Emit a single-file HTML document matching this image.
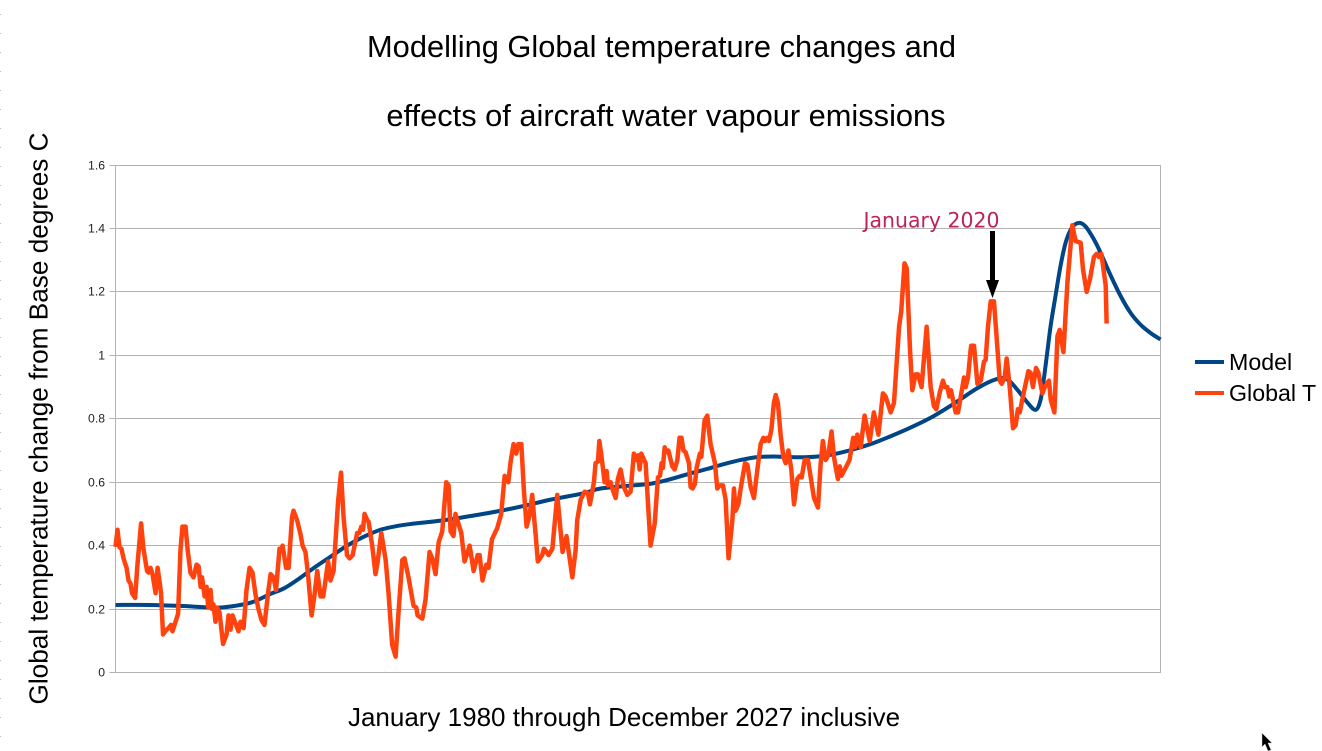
<!DOCTYPE html>
<html lang="en">
<head>
<meta charset="utf-8">
<title>Modelling Global temperature changes</title>
<style>
html,body{margin:0;padding:0;background:#fff;}
body{width:1322px;height:751px;overflow:hidden;}
svg{display:block;font-family:"Liberation Sans",Arial,sans-serif;}
</style>
</head>
<body>
<svg id="chart" width="1322" height="751" viewBox="0 0 1322 751" xmlns="http://www.w3.org/2000/svg">
  <rect x="0" y="0" width="1322" height="751" fill="#ffffff"/>
  <g id="edge-dots"></g>
  <text x="661.5" y="57" font-size="30.8" text-anchor="middle" fill="#000">Modelling Global temperature changes and</text>
  <text x="666" y="126" font-size="30.8" text-anchor="middle" fill="#000">effects of aircraft water vapour emissions</text>
  <g id="grid"></g>
  <g id="ticks"></g>
  <g id="series"></g>
  <text transform="translate(47.5,418.5) rotate(-90)" font-size="26.2" text-anchor="middle" fill="#000">Global temperature change from Base degrees C</text>
  <text x="624" y="726" font-size="26" text-anchor="middle" fill="#000">January 1980 through December 2027 inclusive</text>
  <text x="863.5" y="227.5" font-size="21" textLength="136" lengthAdjust="spacingAndGlyphs" fill="#bd2258" style="font-family:'DejaVu Sans',sans-serif">January 2020</text>
  <g>
    <line x1="992.5" y1="231" x2="992.5" y2="284" stroke="#000" stroke-width="5"/>
    <polygon points="986,280 999,280 992.5,298" fill="#000"/>
  </g>
  <g>
    <line x1="1195" y1="362" x2="1224" y2="362" stroke="#004586" stroke-width="4"/>
    <text x="1229" y="370" font-size="23.2" fill="#000">Model</text>
    <line x1="1195" y1="393" x2="1224" y2="393" stroke="#ff420e" stroke-width="4"/>
    <text x="1229" y="401" font-size="23.2" fill="#000">Global T</text>
  </g>
  <polygon points="1262,733 1262,747 1265,744 1268,751 1271,750 1268,743 1272,743" fill="#000" stroke="#ccc" stroke-width="0.5"/>
</svg>
<script>
var yTickValues = [0, 0.2, 0.4, 0.6, 0.8, 1, 1.2, 1.4, 1.6];
var yTickLabels = ["0", "0.2", "0.4", "0.6", "0.8", "1", "1.2", "1.4", "1.6"];
var totalMonths = 576;

var modelMonths = [0,19.3,35.8,52.4,60.6,74.4,85.5,92.8,100.2,109.4,118.5,127.7,136.9,146.1,155.3,162.6,180.9,199.6,212.3,225,239.9,258,267.4,285.6,294.9,304.3,317,326.2,335.4,344.6,353.8,362.9,372.1,381.3,390.5,399.7,408.9,419.9,436.6,449.3,462,475.2,486.2,491.8,497.3,502.8,507.2,509.9,511.8,513.6,515.5,518.2,521,523.7,526.5,529.2,532,534.7,537.5,540.3,543,548.5,554,559.6,565.1,570.6,576];
var modelValues = [.213,.213,.21,.205,.206,.22,.248,.265,.292,.33,.365,.40,.428,.45,.462,.468,.48,.497,.51,.525,.545,.565,.58,.59,.595,.607,.628,.642,.657,.67,.679,.681,.679,.679,.683,.693,.707,.728,.768,.803,.847,.897,.926,.923,.89,.85,.828,.86,.93,1.01,1.095,1.19,1.285,1.355,1.396,1.414,1.417,1.406,1.383,1.355,1.323,1.252,1.187,1.133,1.096,1.07,1.05];

var tempMonths = [0,1.1,2.2,3.3,4.4,6.1,7.2,8.3,9.1,10.8,12.1,14.1,15.4,17.4,18.2,19.3,20.4,22.1,23.2,24.3,25.1,26.2,28.1,29.2,30.6,31.4,33.1,34.5,35.8,36.9,38.6,39.7,41.3,43,44.7,45.8,46.9,47.7,49.1,50.2,51.1,52.4,53.2,54,55.1,56,57.3,59.3,61.2,62.3,63.4,64.5,67.8,68.9,70.6,72.2,73.9,75.5,77.2,78.8,80.5,82.1,84.3,85.5,87.1,88.5,90.4,91.5,92.1,94,95.4,97.3,98.1,100.1,102,103.1,104.7,106.1,108.1,109.7,111.2,113,114.5,117.2,118.5,120.2,122.7,124.3,125.7,127.6,129,130.7,133.2,134.4,135.5,136.4,137.3,138.8,139.5,141.5,143.3,144.4,146.5,148.9,150.5,152.5,154.4,156,158.1,159.3,161.5,164.3,165.8,166.5,169.1,170.9,173.1,174.6,176.4,178.1,180.1,182.3,183.6,184.7,186.3,187.4,190.6,192.4,195.2,197.4,199.6,200.7,202.3,204.4,205.6,207.5,210.4,212.6,214.5,216.5,217.8,219.4,220.9,222,223.7,225.1,226.6,228.2,229.7,231,231.5,232.8,235.2,236.1,237,238.7,240.8,243.5,246.4,248.6,251.8,253.6,254.5,256.4,258.6,260.4,261.5,263.7,264.6,265.9,266.7,267.8,269.6,270.7,271.4,272.9,273.8,275.7,276.9,278.4,280.2,282.1,283.9,285.7,287.1,288,288.9,289.8,292.2,294.9,297.2,299,300.1,301,301.7,302.7,303.6,304.7,306.9,308.2,309.7,310.9,312,313,314.2,316.1,317,318.1,319.4,320.3,322.1,322.9,324.7,326.2,328,330.4,331.7,333,334.8,336.3,337.9,340,340.9,341.8,343.3,344.6,347,348.3,350.1,351.9,353.8,355.6,357.1,358,359.3,360.2,361.5,362.9,363.9,365.1,366.6,368.1,369.4,370.9,372.5,374,375.8,377.1,378.2,379.9,381.7,383.2,385,387.2,388.7,389.9,391.4,392.9,394.7,396,396.9,398.2,399.2,400.1,402.4,404.6,406.6,407.7,408.9,410.7,412.9,415.7,418,420.5,423,424.5,427.3,429.1,431.9,433.1,434.9,436.1,437.9,439.2,441,442.3,444.3,447.1,449.3,451.1,452.4,454.4,456.1,457.2,458.5,459.6,460.5,463.1,464.4,466.2,467.7,468.6,469.9,471.4,471.7,473.2,475.1,476.9,478.7,479.6,480.9,482.4,484.2,485.5,487.4,488.5,490.1,491.2,492.9,494.7,496.2,497.4,498.4,500.7,503.2,504.4,505.7,507.4,508.7,510.9,512.2,514.5,515.5,517.5,519.2,520.4,522.5,524.7,527.4,529.2,532,533.3,535.3,537.1,539.3,540.8,542.1,543.4,545.8,546.3];
var tempValues = [.396,.45,.395,.39,.36,.33,.29,.28,.25,.235,.34,.47,.39,.32,.315,.33,.31,.25,.33,.285,.25,.12,.135,.14,.15,.13,.16,.185,.385,.46,.46,.39,.315,.30,.34,.335,.27,.30,.24,.27,.205,.26,.2,.215,.16,.205,.19,.09,.12,.18,.135,.18,.13,.16,.14,.26,.33,.315,.245,.2,.165,.15,.26,.31,.30,.26,.39,.39,.40,.33,.33,.49,.51,.48,.435,.40,.38,.31,.18,.245,.32,.24,.24,.35,.29,.32,.54,.63,.49,.37,.36,.37,.44,.44,.46,.45,.50,.48,.475,.40,.31,.345,.44,.355,.25,.087,.05,.19,.355,.36,.30,.21,.205,.18,.17,.23,.38,.36,.31,.41,.445,.60,.59,.445,.43,.50,.44,.35,.40,.32,.37,.37,.29,.34,.33,.42,.455,.50,.62,.60,.665,.72,.69,.72,.72,.575,.46,.495,.56,.47,.44,.35,.37,.39,.385,.37,.39,.56,.38,.43,.30,.385,.48,.545,.57,.565,.53,.60,.66,.665,.73,.685,.60,.635,.59,.60,.58,.55,.61,.64,.585,.56,.57,.69,.67,.685,.64,.69,.66,.40,.47,.615,.62,.66,.645,.71,.695,.70,.65,.64,.67,.74,.74,.70,.695,.66,.585,.58,.595,.645,.69,.68,.795,.81,.72,.66,.58,.59,.59,.545,.36,.48,.58,.51,.53,.58,.66,.655,.585,.55,.64,.72,.74,.73,.74,.73,.765,.85,.875,.85,.75,.68,.66,.70,.64,.53,.61,.62,.615,.67,.67,.615,.55,.52,.66,.73,.67,.685,.76,.68,.65,.61,.65,.62,.645,.67,.74,.71,.75,.71,.81,.73,.82,.75,.88,.87,.82,.85,1.09,1.14,1.29,1.275,1.02,.89,.94,.94,.90,1.09,.90,.84,.83,.885,.92,.90,.90,.87,.89,.82,.82,.88,.93,.90,.93,1.02,1.03,1.03,.91,.92,.98,.985,1.09,1.17,1.17,1.07,.92,.91,.93,.99,.90,.77,.78,.83,.82,.885,.95,.945,.90,.96,.945,.88,.90,.92,.86,.82,1.06,1.08,1.01,1.23,1.41,1.36,1.355,1.27,1.20,1.24,1.31,1.32,1.31,1.32,1.22,1.10];

var plotLeft = 115.5, plotRight = 1160.5, plotTop = 165, plotBottom = 672.5, yMax = 1.6;
var NS = "http://www.w3.org/2000/svg";

function xScale(m) { return plotLeft + m / totalMonths * (plotRight - plotLeft); }
function yScale(v) { return plotBottom - v / yMax * (plotBottom - plotTop); }

var gridGroup = document.getElementById("grid");
var ticksGroup = document.getElementById("ticks");
var seriesGroup = document.getElementById("series");
var dotsGroup = document.getElementById("edge-dots");

for (var d = 14; d < 751; d += 19) {
  var dot = document.createElementNS(NS, "rect");
  
  
  dot.setAttribute("x", 0);
  dot.setAttribute("y", d);
  dot.setAttribute("width", 1);
  dot.setAttribute("height", 1);
  dot.setAttribute("fill", "#bbbbbb");
  dotsGroup.appendChild(dot);
}

yTickValues.forEach(function (v, i) {
  var y = Math.floor(yScale(v)) + 0.5;
  var line = document.createElementNS(NS, "line");
  
  
  line.setAttribute("x1", plotLeft - 6);
  line.setAttribute("x2", plotRight);
  line.setAttribute("y1", y);
  line.setAttribute("y2", y);
  line.setAttribute("stroke", "#b3b3b3");
  line.setAttribute("stroke-width", 1);
  gridGroup.appendChild(line);

  var label = document.createElementNS(NS, "text");
  
  
  label.setAttribute("x", 105);
  label.setAttribute("y", y + 4);
  label.setAttribute("font-size", 12.2);
  label.setAttribute("text-anchor", "end");
  label.setAttribute("fill", "#222222");
  label.textContent = yTickLabels[i];
  ticksGroup.appendChild(label);
});

var axisLeft = document.createElementNS(NS, "line");


axisLeft.setAttribute("x1", plotLeft);
axisLeft.setAttribute("x2", plotLeft);
axisLeft.setAttribute("y1", plotTop);
axisLeft.setAttribute("y2", plotBottom + 0.5);
axisLeft.setAttribute("stroke", "#b3b3b3");
gridGroup.appendChild(axisLeft);

var axisRight = document.createElementNS(NS, "line");


axisRight.setAttribute("x1", plotRight);
axisRight.setAttribute("x2", plotRight);
axisRight.setAttribute("y1", plotTop);
axisRight.setAttribute("y2", plotBottom + 0.5);
axisRight.setAttribute("stroke", "#b3b3b3");
gridGroup.appendChild(axisRight);

function smoothPath(xs, ys) {
  var pts = xs.map(function (m, i) { return [xScale(m), yScale(ys[i])]; });
  var s = "M" + pts[0][0].toFixed(2) + " " + pts[0][1].toFixed(2);
  for (var i = 0; i < pts.length - 1; i++) {
    var p0 = pts[Math.max(i - 1, 0)], p1 = pts[i], p2 = pts[i + 1], p3 = pts[Math.min(i + 2, pts.length - 1)];
    var c1x = p1[0] + (p2[0] - p0[0]) / 6, c1y = p1[1] + (p2[1] - p0[1]) / 6;
    var c2x = p2[0] - (p3[0] - p1[0]) / 6, c2y = p2[1] - (p3[1] - p1[1]) / 6;
    s += "C" + c1x.toFixed(2) + " " + c1y.toFixed(2) + " " + c2x.toFixed(2) + " " + c2y.toFixed(2) + " " + p2[0].toFixed(2) + " " + p2[1].toFixed(2);
  }
  return s;
}

function linePath(xs, ys) {
  return xs.map(function (m, i) {
    return (i ? "L" : "M") + xScale(m).toFixed(2) + " " + yScale(ys[i]).toFixed(2);
  }).join("");
}

var modelLine = document.createElementNS(NS, "path");


modelLine.setAttribute("d", smoothPath(modelMonths, modelValues));
modelLine.setAttribute("fill", "none");
modelLine.setAttribute("stroke", "#004586");
modelLine.setAttribute("stroke-width", 4);
modelLine.setAttribute("stroke-linejoin", "round");
seriesGroup.appendChild(modelLine);

var tempLine = document.createElementNS(NS, "path");


tempLine.setAttribute("d", linePath(tempMonths, tempValues));
tempLine.setAttribute("fill", "none");
tempLine.setAttribute("stroke", "#ff420e");
tempLine.setAttribute("stroke-width", 4.5);
tempLine.setAttribute("stroke-linejoin", "round");
seriesGroup.appendChild(tempLine);
</script>
</body>
</html>
